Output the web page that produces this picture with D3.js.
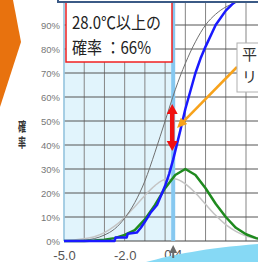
<!DOCTYPE html>
<html><head><meta charset="utf-8">
<script src="https://cdn.jsdelivr.net/npm/d3@7"></script>
<style>
html,body{margin:0;padding:0;background:#fff;overflow:hidden}
svg{display:block}
</style></head><body>
<script>
// ---- data ----
const yTicks = [0,10,20,30,40,50,60,70,80,90,100];
const yTickLabels = ["0%","10%","20%","30%","40%","50%","60%","70%","80%","90%"];
const xGrid = [-5,-4,-3,-2,-1,0,1,2,3,4,5];
const xTickLabels = [-5,-2];
const threshold = 0.4;
const thresholdLabel = "0.4";
const boxLine1 = "28.0℃以上の";
const boxLine2 = "確率 ：66%";
const calloutLines = ["平","リ"];
const yTitle = "確率";

// climatological CDF (thin gray)
const climX   = [-5,-4.5,-4,-3.5,-3,-2.5,-2,-1.5,-1,-0.5,0,0.5,1,1.5,2,2.5,3,3.5,4,5];
const climCdf = [0,0.1,0.3,1,2.5,5,9.5,16,25,37,50,63,74,83,90,94.5,97.5,99.3,100,100];
// climatological PDF (light gray bell)
const climPdf = [0.15,0.4,0.9,1.8,3.5,6.2,9.8,14.3,19,23.1,25.6,25.8,23.8,20,15.3,10.7,6.8,4,2.1,0.4];
// forecast PDF (green)
const fcX   = [-5,-4,-3.5,-3,-2.5,-2,-1.5,-1,-0.5,0,0.5,1,1.5,2,2.5,3,3.5,4,4.5,5];
const fcPdf = [0,0,0.2,0.5,1.2,2.5,4.5,9,15,22,27.5,30,27.5,22,15.5,10,5.5,2.8,1.2,0.5];
// forecast CDF (blue, stepped at the low end)
const fcCdfX = [-5,-2.5,-2.45,-1.9,-1.85,-1.4,-1.2,-1.0,-0.7,-0.4,0,0.2,0.4,0.75,1.0,1.5,1.75,2.0,2.5,3.0,3.3,3.5,5];
const fcCdf  = [0,0,1.5,1.5,3,3.5,5.5,8,12,15,23,28,34,46,55,70,76,81,90,96,98.5,100,100];

// ---- drawing ----
const W = 258, H = 262;
const svg = d3.select("body").append("svg").attr("width", W).attr("height", H);
const x = d3.scaleLinear().domain([-5, 4]).range([64, 246]);
const y = d3.scaleLinear().domain([0, 100]).range([241, 1]);

// orange chevron at left
svg.append("polygon").attr("points","0,0 13,0 21,42 0,107").attr("fill","#e8720e");

// plot backgrounds
svg.append("rect").attr("x", x(-5)).attr("y", y(100)).attr("width", x(threshold)-x(-5))
  .attr("height", y(0)-y(100)).attr("fill","#e1f4fc");

// grid
svg.append("g").selectAll("line").data(xGrid).join("line")
  .attr("x1", d=>x(d)).attr("x2", d=>x(d)).attr("y1", y(100)).attr("y2", y(0))
  .attr("stroke","#858585").attr("stroke-width",1);
svg.append("g").selectAll("line").data(yTicks).join("line")
  .attr("x1", x(-5)).attr("x2", W).attr("y1", d=>y(d)).attr("y2", d=>y(d))
  .attr("stroke", d=> d===0 ? "#444" : "#555").attr("stroke-width",1);
svg.append("line").attr("x1",x(-5)).attr("x2",x(-5)).attr("y1",y(100)).attr("y2",y(0))
  .attr("stroke","#9fd3ef").attr("stroke-width",1.5);

// threshold light blue line
svg.append("line").attr("x1",x(threshold)).attr("x2",x(threshold)).attr("y1",y(100)).attr("y2",y(0))
  .attr("stroke","#86c8f0").attr("stroke-width",4);

// y axis labels
const yAx = svg.append("g").attr("transform",`translate(${x(-5)-3},0)`)
  .call(d3.axisLeft(y).tickValues(yTicks.slice(0,10)).tickSize(0).tickPadding(1)
    .tickFormat((d,i)=>yTickLabels[i]));
yAx.select(".domain").remove();
yAx.selectAll("text").attr("font-family","Liberation Sans, Arial, sans-serif")
  .attr("font-size",9.5).attr("fill","#777").attr("dy","0.34em");

// y title (vertical)
svg.append("text").attr("transform","translate(22,120) scale(0.62,1)")
  .attr("writing-mode","vertical-rl").attr("font-family","Noto Sans CJK JP")
  .attr("font-weight","bold").attr("font-size",13).attr("letter-spacing",3)
  .attr("fill","#333").text(yTitle);

// curves
const line = d3.line().x(d=>x(d[0])).y(d=>y(d[1]));
const smooth = d3.line().x(d=>x(d[0])).y(d=>y(d[1])).curve(d3.curveMonotoneX);
svg.append("path").datum(climX.map((v,i)=>[v,climPdf[i]])).attr("d",smooth)
  .attr("fill","none").attr("stroke","#c4c4c4").attr("stroke-width",1.5);
svg.append("path").datum(climX.map((v,i)=>[v,climCdf[i]])).attr("d",smooth)
  .attr("fill","none").attr("stroke","#707070").attr("stroke-width",1);
svg.append("path").datum(fcX.map((v,i)=>[v,fcPdf[i]])).attr("d",line)
  .attr("fill","none").attr("stroke","#1e8a1e").attr("stroke-width",2.5).attr("stroke-linejoin","round");
svg.append("path").datum(fcCdfX.map((v,i)=>[v,fcCdf[i]])).attr("d",line)
  .attr("fill","none").attr("stroke","#1a1aff").attr("stroke-width",2.5).attr("stroke-linejoin","round");

// red double arrow
const ax = x(threshold) - 1, at = 104, ab = 151;
svg.append("line").attr("x1",ax).attr("x2",ax).attr("y1",at+7).attr("y2",ab-7)
  .attr("stroke","#f01010").attr("stroke-width",4.5);
svg.append("polygon").attr("points",`${ax-5.5},${at+10} ${ax+5.5},${at+10} ${ax},${at}`).attr("fill","#f01010");
svg.append("polygon").attr("points",`${ax-5.5},${ab-10} ${ax+5.5},${ab-10} ${ax},${ab}`).attr("fill","#f01010");

// orange pointer
const ox1 = 237, oy1 = 67, ox2 = 177, oy2 = 128;
const ang = Math.atan2(oy2-oy1, ox2-ox1);
svg.append("line").attr("x1",ox1).attr("y1",oy1)
  .attr("x2",ox2-7*Math.cos(ang)).attr("y2",oy2-7*Math.sin(ang))
  .attr("stroke","#f7a21b").attr("stroke-width",2.5);
const hp = (l,w)=>[ox2 - l*Math.cos(ang) + w*Math.sin(ang), oy2 - l*Math.sin(ang) - w*Math.cos(ang)];
svg.append("polygon").attr("points",[[ox2,oy2],hp(10,4.5),hp(10,-4.5)].map(p=>p.join(",")).join(" "))
  .attr("fill","#f7a21b");

// callout box on right
svg.append("rect").attr("x",237).attr("y",43).attr("width",40).attr("height",49)
  .attr("fill","#fff").attr("stroke","#b0b0b0").attr("stroke-width",1);
svg.append("g").selectAll("text").data(calloutLines).join("text")
  .attr("x",242).attr("y",(d,i)=>60+i*22).attr("font-family","Noto Sans CJK JP")
  .attr("font-size",15).attr("fill","#333").text(d=>d);

// red text box
svg.append("rect").attr("x",66).attr("y",1).attr("width",106).attr("height",61)
  .attr("fill","#fff").attr("stroke","#f02020").attr("stroke-width",1.5);
svg.append("text").attr("x",72).attr("y",29).attr("font-family","Noto Sans CJK JP")
  .attr("font-size",17).attr("fill","#222").attr("textLength",89).attr("lengthAdjust","spacingAndGlyphs").text(boxLine1);
svg.append("text").attr("x",72).attr("y",54).attr("font-family","Noto Sans CJK JP")
  .attr("font-size",17).attr("fill","#222").attr("textLength",79).attr("lengthAdjust","spacingAndGlyphs").text(boxLine2);

// top frame of box above (drawn over)
svg.append("rect").attr("x",58).attr("y",-20).attr("width",220).attr("height",22)
  .attr("fill","#fff").attr("stroke","#3b5a86").attr("stroke-width",2);

// x axis labels
const xAx = svg.append("g").attr("transform",`translate(0,${y(0)})`)
  .call(d3.axisBottom(x).tickValues(xTickLabels).tickSize(0).tickPadding(10).tickFormat(d=>d.toFixed(1)));
xAx.select(".domain").remove();
xAx.selectAll("text").attr("font-family","Liberation Sans, Arial, sans-serif").attr("font-size",13).attr("fill","#555");
svg.append("text").attr("x",x(threshold)).attr("y",259).attr("text-anchor","middle")
  .attr("font-family","Liberation Sans, Arial, sans-serif").attr("font-size",13).attr("fill","#555").text(thresholdLabel);

// light blue decorative shape
svg.append("path").attr("d","M146,262 C172,255 205,248 258,244 L258,262 Z").attr("fill","#86d9f5");

// gray marker
const mx = x(threshold);
svg.append("polygon").attr("points",`${mx-4},253 ${mx+4},253 ${mx},245`).attr("fill","#6a6a6a");
svg.append("rect").attr("x",mx-1).attr("y",252).attr("width",2).attr("height",6).attr("fill","#6a6a6a");
</script>
</body></html>
